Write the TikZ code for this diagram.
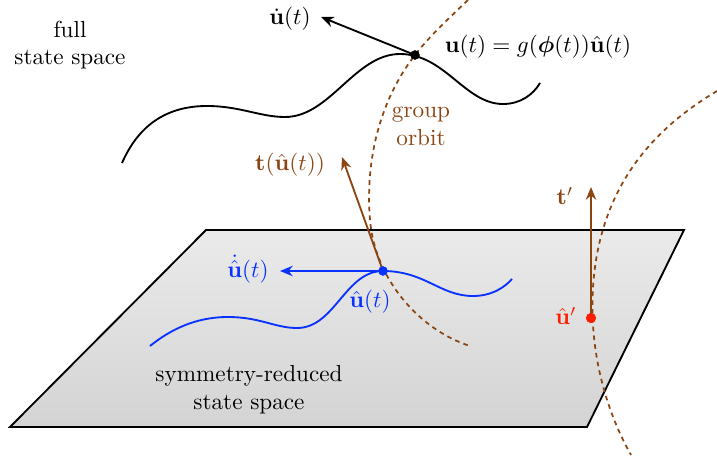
\documentclass[tikz,border=0pt]{standalone}
\usepackage{amsmath,bm}
\usetikzlibrary{arrows.meta}
\definecolor{orbitbrown}{RGB}{139,69,19}
\definecolor{trajblue}{RGB}{10,50,255}
\definecolor{ptred}{RGB}{255,30,0}
\begin{document}
\begin{tikzpicture}[x=0.431pt,y=-0.431pt,
  curve/.style={line width=0.8pt},
  orbit/.style={orbitbrown,line width=0.75pt,dash pattern=on 2pt off 1.8pt},
  vec/.style={line width=0.8pt,-{Stealth[length=5.5pt,width=4.5pt]}},
  dotpt/.style={circle,fill,inner sep=0pt,minimum size=4pt},
  lbl/.style={inner sep=1pt,align=center}]
\useasboundingbox (0,0) rectangle (717,457);
% plane
\coordinate (P1) at (10,427);
\coordinate (P2) at (587,427);
\coordinate (P3) at (684,230);
\coordinate (P4) at (206,230);
\shade[top color=black!8,bottom color=black!17] (P1)--(P2)--(P3)--(P4)--cycle;
\draw[line width=0.8pt,line join=miter] (P1)--(P2)--(P3)--(P4)--cycle;
% full trajectory
\draw[curve] (122,163) .. controls (140,122) and (170,106) .. (207,106)
  .. controls (240,106) and (260,117) .. (285,117)
  .. controls (330,117) and (355,54) .. (400,54)
  .. controls (445,54) and (465,104) .. (503,104)
  .. controls (520,104) and (533,95) .. (540,83);
% group orbits
\draw[orbit] (468,0) .. controls (445,22) and (428,38) .. (415,55)
  .. controls (380,100) and (365,160) .. (370,220)
  .. controls (375,280) and (420,330) .. (470,346);
\draw[orbit] (717,91) .. controls (660,125) and (610,175) .. (596,260)
  .. controls (585,330) and (600,400) .. (631,455);
% points
\node[dotpt] (u) at (415,55) {};
\node[dotpt,trajblue] (uh) at (383,271) {};
\node[dotpt,ptred,minimum size=4.3pt] (up) at (591,318) {};
% arrow ends
\coordinate (udotend) at (321,17);
\coordinate (tend) at (342,157);
\coordinate (uhdotend) at (280,271);
\coordinate (tpend) at (591,187);
% reduced trajectory
\draw[curve,trajblue] (150,346) .. controls (170,330) and (195,317) .. (228,317)
  .. controls (260,317) and (275,328) .. (297,328)
  .. controls (335,328) and (345,271) .. (383,271)
  .. controls (425,271) and (440,296) .. (473,296)
  .. controls (492,296) and (505,287) .. (512,279);
% vectors
\draw[vec] (u.center) -- (udotend);
\draw[vec,orbitbrown] (uh.center) -- (tend);
\draw[vec,trajblue] (uh.center) -- (uhdotend);
\draw[vec,orbitbrown] (up.center) -- (tpend);
\node[dotpt] at (u) {};
\node[dotpt,trajblue] at (uh) {};
\node[dotpt,ptred,minimum size=4.3pt] at (up) {};
% labels
\node[lbl] (lfull) at (70,45) {full\\state space};
\node[lbl] (ludot) at (290,19) {$\dot{\mathbf{u}}(t)$};
\node[lbl,anchor=west] (lu) at (442,47) {$\mathbf{u}(t)=g(\bm{\phi}(t))\hat{\mathbf{u}}(t)$};
\node[lbl,orbitbrown] (lorbit) at (421,126) {group\\orbit};
\node[lbl,orbitbrown] (lt) at (290,165) {$\mathbf{t}(\hat{\mathbf{u}}(t))$};
\node[lbl,orbitbrown] (ltp) at (565,196) {$\mathbf{t}'$};
\node[lbl,trajblue] (luhdot) at (248,269) {$\dot{\hat{\mathbf{u}}}(t)$};
\node[lbl,trajblue] (luh) at (370,302) {$\hat{\mathbf{u}}(t)$};
\node[lbl,ptred] (lup) at (566,316) {$\hat{\mathbf{u}}'$};
\node[lbl] (lred) at (249,390) {symmetry-reduced\\state space};
\end{tikzpicture}
\end{document}
